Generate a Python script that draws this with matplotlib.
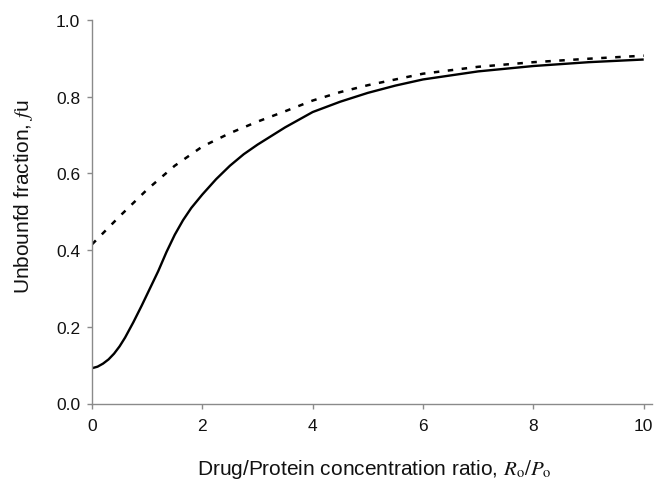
import matplotlib
matplotlib.use("Agg")
import matplotlib.pyplot as plt

plt.rcParams['font.family'] = ['Liberation Sans', 'DejaVu Sans']
plt.rcParams['mathtext.fontset'] = 'stix'

# Unbound fraction curves
x_solid = [0, 0.1, 0.2, 0.3, 0.4, 0.5, 0.6, 0.75, 0.9, 1.05, 1.2, 1.35, 1.5, 1.65, 1.8, 2.0, 2.25, 2.5, 2.75, 3.0,
           3.5, 4.0, 4.5, 5.0, 5.5, 6.0, 7.0, 8.0, 9.0, 10.0]
y_solid = [0.092, 0.096, 0.104, 0.115, 0.13, 0.149, 0.172, 0.212, 0.255, 0.30, 0.345, 0.395, 0.44, 0.478, 0.51, 0.545,
           0.585, 0.62, 0.65, 0.675, 0.72, 0.76, 0.787, 0.81, 0.829, 0.845, 0.866, 0.88, 0.89, 0.897]

x_dash = [0, 0.5, 1.0, 1.5, 2.0, 2.5, 3.0, 3.5, 4.0, 4.5, 5.0, 6.0, 7.0, 8.0, 9.0, 10.0]
y_dash = [0.415, 0.488, 0.558, 0.62, 0.67, 0.705, 0.735, 0.762, 0.79, 0.812, 0.83, 0.86, 0.878, 0.89, 0.899, 0.907]

x_ticks = [0, 2, 4, 6, 8, 10]
y_ticks = [0.0, 0.2, 0.4, 0.6, 0.8, 1.0]

fig = plt.figure(figsize=(6.54, 4.81), dpi=100)
ax = fig.add_axes([92/654, 1 - 404.5/481, 560/654, 383.5/481])

ax.plot(x_solid, y_solid, color='black', lw=1.7, solid_capstyle='butt', solid_joinstyle='round')
ax.plot(x_dash, y_dash, color='black', lw=1.8, linestyle=(0, (2.2, 3.4)))

ax.set_xlim(0, 10.15)
ax.set_ylim(0, 1.0)
ax.set_xticks(x_ticks)
ax.set_yticks(y_ticks)
ax.set_xticklabels([str(v) for v in x_ticks])
ax.set_yticklabels([f"{v:.1f}" for v in y_ticks])

for s in ['top', 'right']:
    ax.spines[s].set_visible(False)
for s in ['left', 'bottom']:
    ax.spines[s].set_color('#8a8a8a')
    ax.spines[s].set_linewidth(1.0)
ax.tick_params(axis='both', colors='#8a8a8a', labelcolor='#111111', labelsize=12.5,
               length=3.5, width=1.0, direction='out')
ax.tick_params(axis='x', pad=7)
ax.tick_params(axis='y', pad=5)

fig.text(374/654, (481 - 475)/481, r"Drug/Protein concentration ratio, $R_{\mathrm{o}}/P_{\mathrm{o}}$",
         fontsize=15, ha='center', va='baseline', color='#111111')
fig.text(24/654, 1 - 197/481, r"Unbounfd fraction, $f$u", fontsize=15, rotation=90,
         ha='center', va='center', color='#111111')

fig.savefig("out.png", dpi=100)
